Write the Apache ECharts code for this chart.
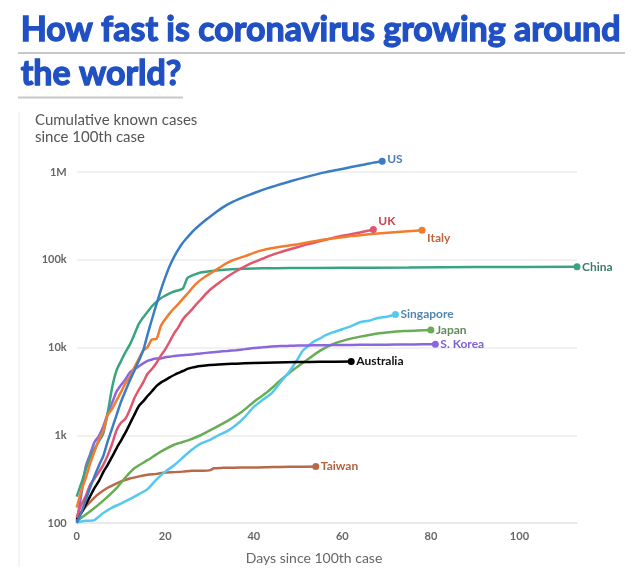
<!DOCTYPE html>
<html><head><meta charset="utf-8">
<script src="https://cdn.jsdelivr.net/npm/echarts@6/dist/echarts.min.js"></script>
<style>html,body{margin:0;padding:0;background:#fff}#chart{width:640px;height:585px}</style>
</head><body><div id="chart"></div>
<script>
// ---------- text ----------
const titleLines = ['How fast is coronavirus growing around', 'the world?'];
const subtitleLines = ['Cumulative known cases', 'since 100th case'];
const xAxisTitle = 'Days since 100th case';
const yTickLabels = {100: '100', 1000: '1k', 10000: '10k', 100000: '100k', 1000000: '1M'};
const xTicks = [0, 20, 40, 60, 80, 100];

// ---------- data: [days since 100th case, cumulative cases] ----------
const usData = [[0,100],[1,130],[2,180],[3,250],[4,340],[5,450],[6,580],[7,850],[8,1200],[9,1700],[10,2400],[11,3200],[12,4200],[13,5400],[14,7000],[15,9200],[16,14000],[17,21000],[18,31000],[19,45000],[20,63000],[21,85000],[22,108000],[23,132000],[24,157000],[25,180000],[26,205000],[27,230000],[29,280000],[31,335000],[33,395000],[35,450000],[37,500000],[39,550000],[41,600000],[43,650000],[45,700000],[47,750000],[50,830000],[53,910000],[56,990000],[59,1060000],[62,1140000],[65,1220000],[67,1280000],[69,1330000]];
const ukData = [[0,115],[1,160],[2,200],[3,270],[4,320],[5,380],[6,460],[7,590],[8,800],[9,1140],[10,1390],[11,1540],[12,1950],[13,2630],[14,3280],[15,3980],[16,5020],[17,5680],[18,6650],[19,8080],[20,9530],[21,11700],[22,14500],[23,17100],[24,21000],[25,24000],[26,27000],[27,31000],[28,35000],[29,40000],[30,45000],[32,54000],[34,64000],[36,74000],[38,84000],[40,94000],[42,103000],[44,113000],[46,122000],[48,131000],[50,140000],[52,149600],[54,158300],[56,167800],[58,178000],[60,187800],[62,195000],[64,205000],[66,215000],[67,221000]];
const italyData = [[0,150],[1,230],[2,320],[3,470],[4,650],[5,890],[6,1130],[7,1700],[8,2000],[9,2500],[10,3100],[11,3900],[12,4600],[13,5900],[14,7400],[15,9200],[16,10100],[17,12400],[18,12500],[19,17600],[20,21000],[21,24500],[22,28000],[23,31500],[24,36000],[25,41000],[26,47000],[27,53500],[28,59000],[29,64000],[30,69000],[31,74000],[32,80000],[33,86000],[34,92000],[35,97500],[36,101700],[38,110000],[40,119800],[42,128900],[44,135500],[46,141000],[48,145000],[50,150000],[53,160000],[56,170000],[59,178000],[62,186000],[65,193000],[68,199000],[71,205000],[74,210000],[78,217000]];
const chinaData = [[0,200],[1,280],[2,400],[3,550],[4,700],[5,850],[6,1050],[7,1800],[8,3500],[9,5500],[10,7000],[11,8800],[12,10800],[13,14000],[14,18500],[15,22000],[16,25500],[17,29500],[18,33000],[19,36500],[20,39000],[21,41500],[22,43500],[23,45000],[24,47000],[25,62000],[26,66000],[27,69000],[28,71500],[30,74000],[32,76000],[35,77800],[38,79000],[42,80000],[48,80500],[60,81000],[75,81500],[90,82500],[113,83000]];
const singaporeData = [[0,102],[2,106],[4,108],[6,130],[8,150],[10,166],[12,187],[14,212],[16,243],[18,313],[20,385],[22,455],[24,558],[26,683],[28,802],[30,879],[32,1000],[34,1114],[36,1309],[38,1623],[40,2108],[42,2532],[44,3000],[46,4000],[48,5300],[50,7500],[51,9125],[52,10141],[53,11178],[54,12075],[55,12693],[56,13624],[58,14951],[60,16169],[62,17548],[64,19410],[66,20198],[68,21707],[70,22460],[72,23822]];
const japanData = [[0,105],[3,135],[6,180],[9,250],[11,330],[13,420],[16,520],[19,650],[22,780],[25,870],[28,1000],[31,1200],[34,1450],[37,1800],[40,2400],[43,3100],[46,4200],[49,5600],[52,7200],[55,9200],[58,11000],[61,12300],[64,13300],[67,14200],[70,14800],[74,15400],[77,15600],[80,15800]];
const koreaData = [[0,104],[1,204],[2,433],[3,602],[4,833],[5,977],[6,1261],[7,1766],[8,2337],[9,3150],[10,3736],[11,4335],[12,5186],[13,5621],[14,6088],[15,6593],[16,7041],[17,7313],[18,7478],[19,7513],[20,7755],[21,7869],[22,7979],[23,8086],[24,8162],[26,8320],[28,8565],[30,8799],[32,8961],[34,9137],[36,9332],[38,9583],[40,9887],[42,10062],[44,10237],[46,10384],[48,10450],[50,10512],[52,10564],[55,10613],[58,10674],[62,10708],[66,10752],[70,10774],[74,10806],[78,10874],[81,10909]];
const australiaData = [[0,110],[1,130],[2,160],[3,200],[4,250],[5,300],[6,380],[7,460],[8,570],[9,710],[10,870],[11,1070],[12,1350],[13,1700],[14,2140],[15,2430],[16,2800],[17,3170],[18,3640],[19,3980],[20,4250],[21,4560],[22,4860],[23,5140],[24,5400],[25,5700],[26,5900],[27,6050],[28,6150],[30,6300],[32,6400],[34,6480],[36,6550],[40,6650],[45,6750],[50,6820],[55,6870],[62,6940]];
const taiwanData = [[0,108],[2,153],[4,195],[5,216],[7,252],[8,267],[10,298],[12,322],[14,339],[16,355],[18,363],[20,376],[22,380],[24,385],[26,393],[28,395],[30,398],[31,420],[33,425],[35,427],[37,429],[40,429],[43,432],[46,436],[50,438],[54,440]];

const countries = [
  {name: 'Taiwan', data: taiwanData, line: '#b8694a', label: '#b4613e', off: [0, 0]},
  {name: 'Japan', data: japanData, line: '#68ad55', label: '#5f8b55', off: [0, 0]},
  {name: 'Singapore', data: singaporeData, line: '#55c8f2', label: '#4f87b0', off: [0, 0]},
  {name: 'S. Korea', data: koreaData, line: '#8a68dc', label: '#7d63d2', off: [0, 0]},
  {name: 'Australia', data: australiaData, line: '#000000', label: '#111111', off: [0, 0]},
  {name: 'China', data: chinaData, line: '#3aa481', label: '#3c7d69', off: [0, 0]},
  {name: 'UK', data: ukData, line: '#e0566f', label: '#c9434c', off: [0, -8]},
  {name: 'Italy', data: italyData, line: '#f27b2d', label: '#c0643a', off: [0, 8]},
  {name: 'US', data: usData, line: '#3b7dc4', label: '#4a7bb0', off: [0, -2]}
];

const FONT = 'Lato, "DejaVu Sans", sans-serif';
const TITLE_COLOR = '#2050c4';

// fit title to the reference width
const ctx = document.createElement('canvas').getContext('2d');
ctx.font = 'bold 100px Lato';
const titleSize = 100 * 600 / ctx.measureText(titleLines[0]).width;

const chart = echarts.init(document.getElementById('chart'), null, {renderer: 'canvas'});

const series = countries.map(c => ({
  name: c.name,
  type: 'line',
  data: c.data,
  smooth: 0.2,
  symbol: 'circle',
  showSymbol: true,
  symbolSize: (v, p) => (p.dataIndex === c.data.length - 1 ? 7 : 0),
  itemStyle: {color: c.line},
  lineStyle: {color: c.line, width: 2.5},
  emphasis: {disabled: true},
  endLabel: {
    show: true, formatter: c.name, color: c.label, fontWeight: 'bold',
    fontSize: 12, fontFamily: FONT, distance: 5, offset: c.off
  }
}));

const titleStyle = {fontSize: titleSize, fontWeight: 'bold', fontFamily: 'Lato', fill: TITLE_COLOR, stroke: TITLE_COLOR, lineWidth: 1.3};

chart.setOption({
  animation: false,
  backgroundColor: '#fff',
  grid: {left: 76.7, right: 63, top: 145.6, bottom: 62},
  xAxis: {
    type: 'value', min: 0, max: 113, interval: 20,
    axisLine: {show: true, lineStyle: {color: '#e6e6e6', width: 1.5}},
    axisTick: {show: false},
    splitLine: {show: false},
    axisLabel: {
      color: '#666', fontSize: 11, fontWeight: 'bold', fontFamily: FONT, margin: 8,
      showMaxLabel: false,
      formatter: v => (xTicks.includes(v) ? String(v) : '')
    }
  },
  yAxis: {
    type: 'log', logBase: 10, min: 100, max: 2000000,
    axisLine: {show: false},
    axisTick: {show: false},
    splitLine: {show: true, showMaxLine: false, lineStyle: {color: '#ececec', width: 1.5}},
    axisLabel: {
      color: '#666', fontSize: 11, fontWeight: 'bold', fontFamily: FONT, margin: 10,
      showMaxLabel: false,
      formatter: v => yTickLabels[Math.round(v)] || ''
    }
  },
  graphic: [
    {type: 'text', left: 20, top: 12, style: Object.assign({text: titleLines[0]}, titleStyle)},
    {type: 'text', left: 20, top: 56, style: Object.assign({text: titleLines[1]}, titleStyle)},
    {type: 'line', shape: {x1: 18, y1: 53, x2: 625, y2: 53}, style: {stroke: '#c8c8c8', lineWidth: 2}},
    {type: 'line', shape: {x1: 18, y1: 97.5, x2: 183, y2: 97.5}, style: {stroke: '#c8c8c8', lineWidth: 2}},
    {type: 'line', shape: {x1: 19, y1: 112, x2: 19, y2: 567}, style: {stroke: '#eef2f4', lineWidth: 1.5}},
    {type: 'text', left: 35, top: 113, style: {text: subtitleLines[0], fontSize: 15, fontFamily: FONT, fill: '#555'}},
    {type: 'text', left: 35, top: 130, style: {text: subtitleLines[1], fontSize: 15, fontFamily: FONT, fill: '#555'}},
    {type: 'text', x: 314, y: 558, style: {text: xAxisTitle, fontSize: 14, fontFamily: FONT, fill: '#666', align: 'center', verticalAlign: 'middle'}}
  ],
  series: series
});
</script>
</body></html>
